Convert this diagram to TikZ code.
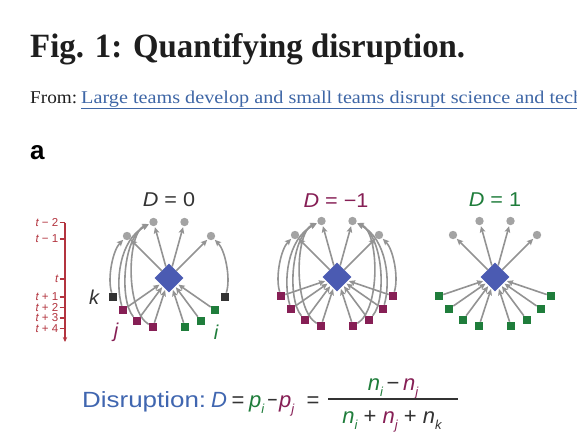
\documentclass[tikz,border=0pt]{standalone}
\usepackage{fontspec}
\usepackage{graphicx}
\setmainfont{Liberation Serif}
\setsansfont{Liberation Sans}
\usetikzlibrary{shapes.geometric,arrows.meta}
\definecolor{refgray}{HTML}{A3A3A3}
\definecolor{arrgray}{HTML}{939393}
\definecolor{focal}{HTML}{4B5BB2}
\definecolor{jcol}{HTML}{861F55}
\definecolor{icol}{HTML}{1F7D3B}
\definecolor{kcol}{HTML}{333333}
\definecolor{tline}{HTML}{B3343F}
\definecolor{linkblue}{HTML}{3E66A6}
\definecolor{formblue}{HTML}{4066B0}
\definecolor{titlecol}{HTML}{1E1E1E}
\definecolor{textdark}{HTML}{333333}
\newcommand{\fs}[1]{\fontsize{#1}{#1}\selectfont}
\newcommand{\subidx}[1]{\raisebox{-0.3em}{\fs{13}\itshape #1}}
\tikzset{
  refnode/.style={circle,fill=refgray,inner sep=0pt,minimum size=8.4pt},
  focalnode/.style={diamond,fill=focal,inner sep=0pt,minimum width=29pt,minimum height=29pt},
  sqnode/.style={rectangle,inner sep=0pt,minimum size=8.2pt},
  jsq/.style={sqnode,fill=jcol},
  isq/.style={sqnode,fill=icol},
  ksq/.style={sqnode,fill=kcol},
  citeline/.style={draw=arrgray,line width=1.6pt,-{Stealth[length=6.2pt,width=5.6pt,inset=1.2pt]},shorten >=1pt},
  difftitle/.style={font=\sffamily\fs{20},inner sep=0pt},
  tlabel/.style={font=\sffamily\fs{11.5},text=tline,anchor=east,inner sep=0pt},
  tick/.style={draw=tline,line width=1.2pt},
  lettlab/.style={font=\sffamily\itshape\fs{20},inner sep=0pt},
  formtext/.style={font=\sffamily\fs{22},inner sep=0pt,anchor=base},
}
\newcommand{\basepanel}[5]{%
  \node[refnode] (#1T1) at (-15.5,-56) {};
  \node[refnode] (#1T2) at (15.5,-56) {};
  \node[refnode] (#1S1) at (-42,-42) {};
  \node[refnode] (#1S2) at (42,-42) {};
  \node[focalnode] (#1D) at (0,0) {};
  \node[#2] (#1Q1) at (-56,19) {};
  \node[#3] (#1Q2) at (-46,32) {};
  \node[#3] (#1Q3) at (-32,43) {};
  \node[#3] (#1Q4) at (-16,49) {};
  \node[#4] (#1Q5) at (16,49) {};
  \node[#4] (#1Q6) at (32,43) {};
  \node[#4] (#1Q7) at (46,32) {};
  \node[#5] (#1Q8) at (56,19) {};
  \foreach \c in {T1,T2,S1,S2} \draw[citeline] (#1D) -- (#1\c);
}
\newcommand{\leftkarc}[1]{%
  \draw[citeline] (#1Q1) .. controls (-62,0) and (-56,-28) .. (#1S1);}
\newcommand{\leftjarcs}[1]{%
  \draw[citeline] (#1Q2) .. controls (-54,5) and (-50,-38) .. (#1T1);
  \draw[citeline] (#1Q3) .. controls (-50,22) and (-46,-41) .. (#1T1);
  \draw[citeline] (#1Q4) .. controls (-44,32) and (-42,-45) .. (#1T1);}
\newcommand{\rightkarc}[1]{%
  \draw[citeline] (#1Q8) .. controls (62,0) and (56,-28) .. (#1S2);}
\newcommand{\rightjarcs}[1]{%
  \draw[citeline] (#1Q7) .. controls (54,5) and (50,-38) .. (#1T2);
  \draw[citeline] (#1Q6) .. controls (50,22) and (46,-41) .. (#1T2);
  \draw[citeline] (#1Q5) .. controls (44,32) and (42,-45) .. (#1T2);}
\begin{document}
\begin{tikzpicture}[x=1pt,y=-1pt]
\fill[white] (0,0) rectangle (577,437);
\useasboundingbox (0,0) rectangle (577,437);

% header
\node[anchor=base west,inner sep=0pt,text=titlecol] (title) at (30,57)
  {\resizebox{435pt}{\height}{\fs{34}\bfseries Fig. 1: Quantifying disruption.}};
\node[anchor=base west,inner sep=0pt,text=titlecol] (from) at (30,103)
  {\resizebox{47pt}{\height}{\fs{18}From:}};
\node[anchor=base west,inner sep=0pt,text=linkblue] (link) at (81,103)
  {\resizebox{502pt}{\height}{\fs{18}\underline{Large teams develop and small teams disrupt science and tech}}};
\node[anchor=base west,inner sep=0pt,font=\sffamily\bfseries\fs{26}] (panela) at (30,159) {a};

% timeline
\coordinate (tltop) at (65,222.5);
\coordinate (tlend) at (65,342);
\draw[draw=tline,line width=1.4pt,-{Stealth[length=5pt,width=4.4pt]}] (tltop) -- (tlend);
\foreach \nm/\yy/\lab in {a/222.5/{\itshape t} − 2, b/239/{\itshape t} − 1, c/279/{\itshape t}, d/297/{\itshape t} + 1, e/307.5/{\itshape t} + 2, f/318/{\itshape t} + 3, g/328.5/{\itshape t} + 4}{
  \coordinate (tk\nm) at (59.5,\yy);
  \coordinate (tl\nm) at (65,\yy);
  \draw[tick] (tk\nm) -- (tl\nm);
  \node[tlabel] (lab\nm) at (58.5,\yy) {\lab};
}

% panel 1: D = 0
\node[difftitle,text=textdark] (title0) at (169,200) {\scalebox{1.08}[1]{{\itshape D} = 0}};
\begin{scope}[shift={(169,278)}]
  \basepanel{a}{ksq}{jsq}{isq}{ksq}
  \foreach \q in {Q2,Q3,Q4,Q5,Q6,Q7} \draw[citeline] (a\q) -- (aD);
  \leftkarc{a}
  \leftjarcs{a}
  \rightkarc{a}
\end{scope}
\node[lettlab,text=textdark] (klab) at (94,297) {k};
\node[lettlab,text=jcol] (jlab) at (116,332) {j};
\node[lettlab,text=icol] (ilab) at (216,332) {i};

% panel 2: D = -1
\node[difftitle,text=jcol] (title1) at (336,201) {\scalebox{1.08}[1]{{\itshape D} = −1}};
\begin{scope}[shift={(337,277)}]
  \basepanel{b}{jsq}{jsq}{jsq}{jsq}
  \foreach \q in {Q1,Q2,Q3,Q4,Q5,Q6,Q7,Q8} \draw[citeline] (b\q) -- (bD);
  \leftkarc{b}
  \leftjarcs{b}
  \rightkarc{b}
  \rightjarcs{b}
\end{scope}

% panel 3: D = 1
\node[difftitle,text=icol] (title2) at (495,200) {\scalebox{1.08}[1]{{\itshape D} = 1}};
\begin{scope}[shift={(495,277)}]
  \basepanel{c}{isq}{isq}{isq}{isq}
  \foreach \q in {Q1,Q2,Q3,Q4,Q5,Q6,Q7,Q8} \draw[citeline] (c\q) -- (cD);
\end{scope}

% formula
\node[formtext,anchor=base west,text=formblue] (formlab) at (82,407)
  {\resizebox{124pt}{\height}{Disruption:}};
\node[formtext,anchor=base west,text=formblue] (formD) at (211,407) {\itshape D};
\node[formtext,text=textdark] (eq1) at (238,407) {=};
\node[formtext,anchor=base west,text=icol] (pi) at (249,407) {\itshape p\subidx{i}};
\node[formtext,text=textdark] (minus1) at (272.5,407) {\scalebox{0.8}[1]{−}};
\node[formtext,anchor=base west,text=jcol] (pj) at (279,407) {\itshape p\subidx{j}};
\node[formtext,text=textdark] (eq2) at (313,407) {=};
\node[formtext] (num) at (393,390)
  {\textcolor{icol}{\itshape n\subidx{i}}\,\textcolor{textdark}{−}\,\textcolor{jcol}{\itshape n\subidx{j}}};
\coordinate (barl) at (328,399);
\coordinate (barr) at (458,399);
\draw[draw=textdark,line width=1.3pt] (barl) -- (barr);
\node[formtext] (den) at (392,423)
  {\textcolor{icol}{\itshape n\subidx{i}} \textcolor{textdark}{+} \textcolor{jcol}{\itshape n\subidx{j}} \textcolor{textdark}{+} \textcolor{textdark}{\itshape n\subidx{k}}};
\end{tikzpicture}
\end{document}
